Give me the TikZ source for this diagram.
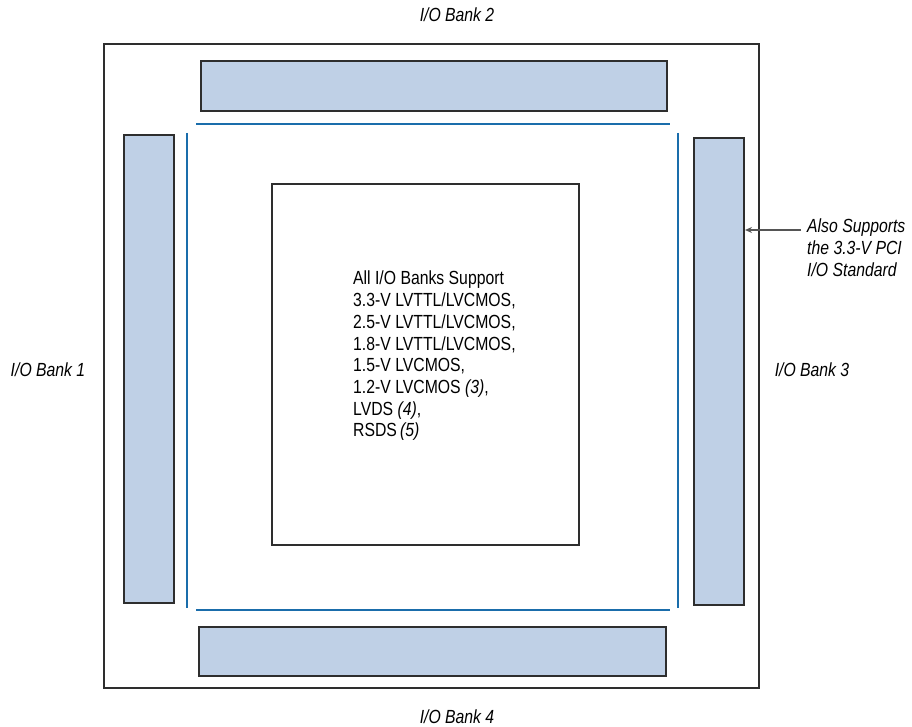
\documentclass[tikz,border=0pt]{standalone}
\usepackage{fontspec}
\setmainfont[FakeStretch=0.83]{Liberation Sans}
\usetikzlibrary{arrows.meta}
\definecolor{bankfill}{HTML}{BFD0E6}
\definecolor{edge}{HTML}{2E2E2E}
\definecolor{bline}{HTML}{1A6DAB}
\definecolor{arrgray}{HTML}{555555}
\tikzset{
  bankbox/.style={draw=edge, line width=2pt, fill=bankfill, inner sep=0pt, anchor=north west},
  plainbox/.style={draw=edge, line width=1.6pt, fill=none, inner sep=0pt, anchor=north west},
  banklabel/.style={font=\fontsize{19}{22}\selectfont\itshape, inner sep=0pt},
  bodytext/.style={font=\fontsize{19}{21.7}\selectfont, align=left, inner sep=0pt},
  blueline/.style={draw=bline, line width=2pt},
  notearrow/.style={draw=arrgray, line width=1.3pt, -{Stealth[length=7pt,width=6pt]}}
}
\begin{document}
\begin{tikzpicture}[x=1pt,y=-1pt]
\useasboundingbox (0,0) rectangle (912,727);
% outer frame
\node[plainbox, minimum width=655pt, minimum height=644pt] (outer) at (103,43) {};
% banks
\node[bankbox, minimum width=466pt, minimum height=50pt] (bank2) at (200,60) {};
\node[bankbox, minimum width=467pt, minimum height=49pt] (bank4) at (198,626) {};
\node[bankbox, minimum width=50pt, minimum height=468pt] (bank1) at (123,134) {};
\node[bankbox, minimum width=50pt, minimum height=467pt] (bank3) at (693,137) {};
% core
\node[plainbox, minimum width=307pt, minimum height=361pt] (core) at (271,183) {};
% blue lines
\draw[blueline] (196,124) -- (670,124);
\draw[blueline] (196,610) -- (670,610);
\draw[blueline] (186.5,133) -- (186.5,608);
\draw[blueline] (677.5,133) -- (677.5,608);
% labels
\node[banklabel] (l2) at (457,15) {I/O Bank 2};
\node[banklabel] (l4) at (457,717) {I/O Bank 4};
\node[banklabel] (l1) at (48,370) {I/O Bank 1};
\node[banklabel] (l3) at (812,370) {I/O Bank 3};
% core text
\node[bodytext, anchor=west] (coretext) at (353,356) {All I/O Banks Support\\3.3-V LVTTL/LVCMOS,\\2.5-V LVTTL/LVCMOS,\\1.8-V LVTTL/LVCMOS,\\1.5-V LVCMOS,\\1.2-V LVCMOS \textit{(3)},\\LVDS \textit{(4)},\\RSDS\,\textit{(5)}};
% note
\node[banklabel, align=left, anchor=north west] (note) at (807,219) {Also Supports\\the 3.3-V PCI\\I/O Standard};
\coordinate (arrstart) at (801,230);
\draw[notearrow] (arrstart) -- (bank3.east |- arrstart);
\end{tikzpicture}
\end{document}
